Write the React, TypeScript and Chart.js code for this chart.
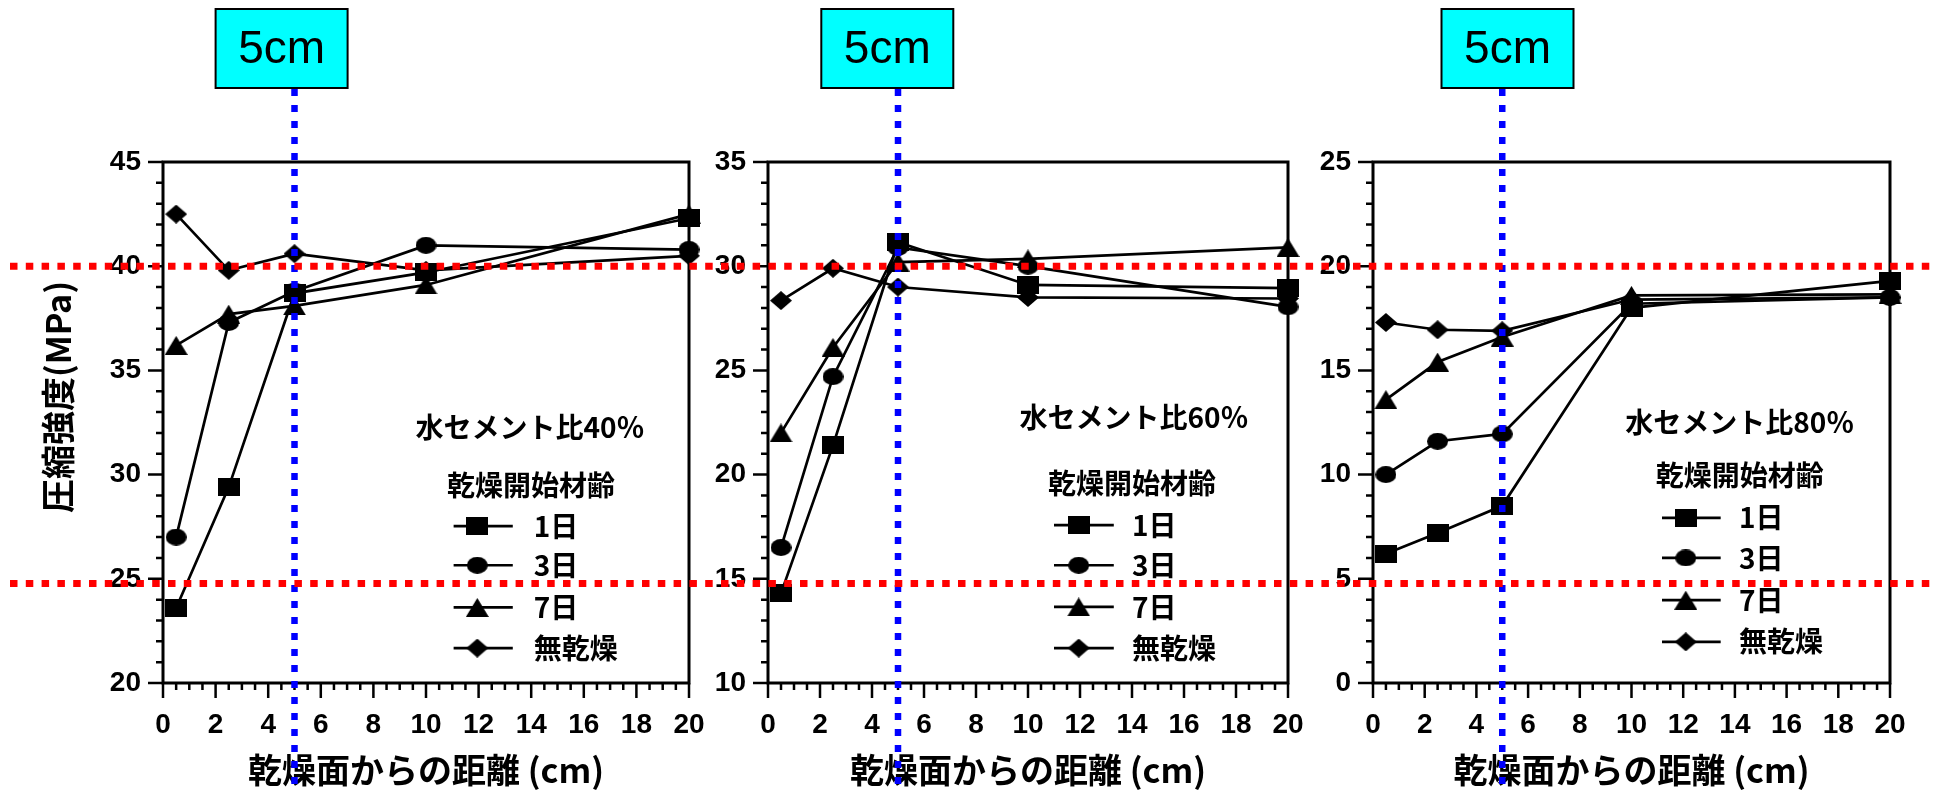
import { useEffect, useRef } from "react";
import { Chart, registerables } from "chart.js";

Chart.register(...registerables);

// ---------- data ----------
const distances = [0.5, 2.5, 5, 10, 20];
const seriesNames = ["1日", "3日", "7日", "無乾燥"];
const panelTitles = ["水セメント比40％", "水セメント比60％", "水セメント比80％"];
const legendHeading = "乾燥開始材齢";
const xAxisTitle = "乾燥面からの距離 (cm)";
const yAxisTitle = "圧縮強度(MPa)";
const guideLabel = "5cm";
const guideDistance = 5;
const xTickStep = 2;
const yTickStep = 5;

const wc40Day1 = [23.6, 29.4, 38.7, 39.7, 42.3];
const wc40Day3 = [27.0, 37.3, 38.8, 41.0, 40.8];
const wc40Day7 = [36.2, 37.7, 38.1, 39.1, 42.5];
const wc40None = [42.5, 39.8, 40.6, 39.8, 40.5];

const wc60Day1 = [14.3, 21.4, 31.15, 29.1, 28.95];
const wc60Day3 = [16.5, 24.7, 30.9, 30.0, 28.05];
const wc60Day7 = [22.0, 26.1, 30.2, 30.35, 30.9];
const wc60None = [28.35, 29.9, 29.0, 28.5, 28.45];

const wc80Day1 = [6.2, 7.2, 8.5, 18.0, 19.3];
const wc80Day3 = [10.0, 11.6, 11.95, 18.2, 18.5];
const wc80Day7 = [13.6, 15.4, 16.6, 18.6, 18.65];
const wc80None = [17.3, 16.95, 16.9, 18.4, 18.5];

const yRange40 = [20, 45];
const yRange60 = [10, 35];
const yRange80 = [0, 25];

// red guide levels expressed on the 80% panel's scale
const redLevels80 = [20, 4.78];

// ---------- layout / style ----------
const W = 1936;
const H = 792;
const Y_AXIS_W = 70;
const PLOT_TOP = 162;
const X_AXIS_H = 109;

const CJK = '"Noto Sans CJK JP", "Noto Sans CJK SC", sans-serif';
const SANS = '"Liberation Sans", Arial, sans-serif';

type Panel = {
  left: number;
  right: number;
  yRange: number[];
  series: number[][];
  title: string;
  legend: {
    titleX: number;
    headX: number;
    lineX0: number;
    lineX1: number;
    markX: number;
    textX: number;
    titleF: number;
    headF: number;
    rowsF: number[];
  };
  boxLeftU: number;
};

const panels: Panel[] = [
  {
    left: 163,
    right: 689,
    yRange: yRange40,
    series: [wc40Day1, wc40Day3, wc40Day7, wc40None],
    title: panelTitles[0],
    legend: {
      titleX: 9.6, headX: 10.8, lineX0: 11.05, lineX1: 13.3, markX: 11.95, textX: 14.1,
      titleF: 0.509, headF: 0.62, rowsF: [0.699, 0.774, 0.855, 0.933],
    },
    boxLeftU: 2.0,
  },
  {
    left: 768,
    right: 1288,
    yRange: yRange60,
    series: [wc60Day1, wc60Day3, wc60Day7, wc60None],
    title: panelTitles[1],
    legend: {
      titleX: 9.67, headX: 10.77, lineX0: 11.0, lineX1: 13.3, markX: 11.95, textX: 14.0,
      titleF: 0.491, headF: 0.616, rowsF: [0.697, 0.774, 0.854, 0.933],
    },
    boxLeftU: 2.05,
  },
  {
    left: 1373,
    right: 1890,
    yRange: yRange80,
    series: [wc80Day1, wc80Day3, wc80Day7, wc80None],
    title: panelTitles[2],
    legend: {
      titleX: 9.76, headX: 10.94, lineX0: 11.18, lineX1: 13.45, markX: 12.1, textX: 14.16,
      titleF: 0.499, headF: 0.601, rowsF: [0.683, 0.76, 0.841, 0.921],
    },
    boxLeftU: 2.65,
  },
];

function makeMarker(shape: string, w: number, h: number): HTMLCanvasElement {
  const c = document.createElement("canvas");
  c.width = w;
  c.height = h;
  const ctx = c.getContext("2d")!;
  ctx.fillStyle = "#000";
  ctx.beginPath();
  if (shape === "square") {
    ctx.rect(0, 0, w, h);
  } else if (shape === "circle") {
    ctx.ellipse(w / 2, h / 2, w / 2, h / 2, 0, 0, Math.PI * 2);
  } else if (shape === "triangle") {
    ctx.moveTo(w / 2, 0);
    ctx.lineTo(w, h);
    ctx.lineTo(0, h);
    ctx.closePath();
  } else {
    ctx.moveTo(w / 2, 0);
    ctx.lineTo(w, h / 2);
    ctx.lineTo(w / 2, h);
    ctx.lineTo(0, h / 2);
    ctx.closePath();
  }
  ctx.fill();
  return c;
}

function buildChart(canvas: HTMLCanvasElement, p: Panel, idx: number, markers: HTMLCanvasElement[]) {
  const decor = {
    id: "decor" + idx,
    beforeDatasetsDraw(chart: any) {
      const { ctx, chartArea: a, scales } = chart;
      const xs = scales.x;
      const ys = scales.y;
      ctx.save();
      ctx.strokeStyle = "#000";
      ctx.lineWidth = 3;
      ctx.strokeRect(a.left, a.top, a.right - a.left, a.bottom - a.top);
      ctx.lineWidth = 2.5;
      ctx.beginPath();
      for (let v = 0; v <= 20.001; v += 0.5) {
        const x = xs.getPixelForValue(v);
        const major = Math.abs(v / xTickStep - Math.round(v / xTickStep)) < 1e-6;
        ctx.moveTo(x, a.bottom);
        ctx.lineTo(x, a.bottom + (major ? 15 : 7));
      }
      for (let v = p.yRange[0]; v <= p.yRange[1] + 0.001; v += 1) {
        const y = ys.getPixelForValue(v);
        const major = Math.abs(v / yTickStep - Math.round(v / yTickStep)) < 1e-6;
        ctx.moveTo(a.left, y);
        ctx.lineTo(a.left - (major ? 15 : 7), y);
      }
      ctx.stroke();
      ctx.restore();
    },
    afterDraw(chart: any) {
      const { ctx, chartArea: a, scales } = chart;
      const xs = scales.x;
      const L = p.legend;
      const fy = (f: number) => a.top + f * (a.bottom - a.top);
      ctx.save();
      ctx.fillStyle = "#000";
      ctx.textBaseline = "middle";
      ctx.textAlign = "left";
      // legend title + heading
      ctx.font = `bold 28px ${CJK}`;
      ctx.fillText(p.title, xs.getPixelForValue(L.titleX), fy(L.titleF));
      ctx.fillText(legendHeading, xs.getPixelForValue(L.headX), fy(L.headF));
      // legend rows
      chart.data.datasets.forEach((ds: any, i: number) => {
        const y = fy(L.rowsF[i]);
        ctx.strokeStyle = "#000";
        ctx.lineWidth = 2.7;
        ctx.beginPath();
        ctx.moveTo(xs.getPixelForValue(L.lineX0), y);
        ctx.lineTo(xs.getPixelForValue(L.lineX1), y);
        ctx.stroke();
        const m = ds.pointStyle as HTMLCanvasElement;
        ctx.drawImage(m, xs.getPixelForValue(L.markX) - m.width / 2, y - m.height / 2);
        ctx.font = `bold 28px ${CJK}`;
        ctx.fillText(ds.label, xs.getPixelForValue(L.textX), y);
      });
      // y-axis title (first panel)
      if (idx === 0) {
        ctx.save();
        ctx.translate(58, 397);
        ctx.rotate(-Math.PI / 2);
        ctx.textAlign = "center";
        ctx.font = `bold 34px ${CJK}`;
        ctx.fillText(yAxisTitle, 0, 0);
        ctx.restore();
      }
      // blue guide at 5 cm
      const gx = xs.getPixelForValue(guideDistance);
      ctx.strokeStyle = "#0000FF";
      ctx.lineWidth = 6.5;
      ctx.setLineDash([7, 9]);
      ctx.beginPath();
      ctx.moveTo(gx, 89);
      ctx.lineTo(gx, 792);
      ctx.stroke();
      ctx.setLineDash([]);
      // cyan label box
      const bx = xs.getPixelForValue(p.boxLeftU);
      ctx.fillStyle = "#00FFFF";
      ctx.fillRect(bx, 9, 132, 79);
      ctx.strokeStyle = "#000";
      ctx.lineWidth = 2;
      ctx.strokeRect(bx, 9, 132, 79);
      ctx.fillStyle = "#000";
      ctx.textAlign = "center";
      ctx.font = `46px ${SANS}`;
      ctx.fillText(guideLabel, bx + 66, 50);
      // red guides across the whole figure (drawn on top, by last panel)
      if (idx === 2) {
        const ys = scales.y;
        ctx.strokeStyle = "#FF0000";
        ctx.lineWidth = 7;
        ctx.setLineDash([7.5, 8.3]);
        redLevels80.forEach((lv) => {
          const y = ys.getPixelForValue(lv);
          ctx.beginPath();
          ctx.moveTo(10, y);
          ctx.lineTo(W, y);
          ctx.stroke();
        });
        ctx.setLineDash([]);
      }
      ctx.restore();
    },
  };

  return new Chart(canvas, {
    type: "line",
    data: {
      datasets: seriesNames.map((name, i) => ({
        label: name,
        data: distances.map((d, k) => ({ x: d, y: p.series[i][k] })),
        borderColor: "#000",
        backgroundColor: "#000",
        borderWidth: 2.7,
        pointStyle: markers[i] as any,
        pointRadius: 10,
        clip: false as any,
        tension: 0,
        fill: false,
      })),
    },
    options: {
      responsive: false,
      animation: false,
      devicePixelRatio: 1,
      events: [],
      layout: {
        padding: { left: p.left - Y_AXIS_W, right: W - p.right, top: PLOT_TOP, bottom: 0 },
      },
      plugins: { legend: { display: false }, tooltip: { enabled: false }, title: { display: false } },
      scales: {
        x: {
          type: "linear",
          min: 0,
          max: 20,
          afterFit: (s: any) => {
            s.height = X_AXIS_H;
          },
          ticks: {
            stepSize: xTickStep,
            autoSkip: false,
            maxRotation: 0,
            color: "#000",
            padding: 25,
            font: { family: SANS, size: 28, weight: "bold" },
          },
          grid: { display: false, drawTicks: false },
          border: { display: false },
          title: {
            display: true,
            text: xAxisTitle,
            color: "#000",
            font: { family: CJK, size: 34, weight: "bold", lineHeight: 1 },
            padding: { top: 0, bottom: 5 },
          },
        },
        y: {
          type: "linear",
          min: p.yRange[0],
          max: p.yRange[1],
          afterFit: (s: any) => {
            s.width = Y_AXIS_W;
          },
          ticks: {
            stepSize: yTickStep,
            color: "#000",
            padding: 22,
            font: { family: SANS, size: 28, weight: "bold" },
          },
          grid: { display: false, drawTicks: false },
          border: { display: false },
        },
      },
    } as any,
    plugins: [decor],
  });
}

export default function App() {
  const r0 = useRef<HTMLCanvasElement>(null);
  const r1 = useRef<HTMLCanvasElement>(null);
  const r2 = useRef<HTMLCanvasElement>(null);
  const refs = [r0, r1, r2];

  useEffect(() => {
    const markers = [
      makeMarker("square", 22, 18),
      makeMarker("circle", 21, 17),
      makeMarker("triangle", 23, 19),
      makeMarker("diamond", 22, 19),
    ];
    const charts: Chart[] = [];
    panels.forEach((p, i) => {
      const c = refs[i].current;
      if (c) charts.push(buildChart(c, p, i, markers));
    });
    return () => charts.forEach((c) => c.destroy());
  }, []);

  return (
    <div
      style={{
        position: "absolute",
        left: 0,
        top: 0,
        width: W,
        height: H,
        background: "#fff",
        overflow: "hidden",
      }}
    >
      {refs.map((r, i) => (
        <canvas
          key={i}
          ref={r}
          width={W}
          height={H}
          style={{ position: "absolute", left: 0, top: 0, width: W, height: H }}
        />
      ))}
    </div>
  );
}
